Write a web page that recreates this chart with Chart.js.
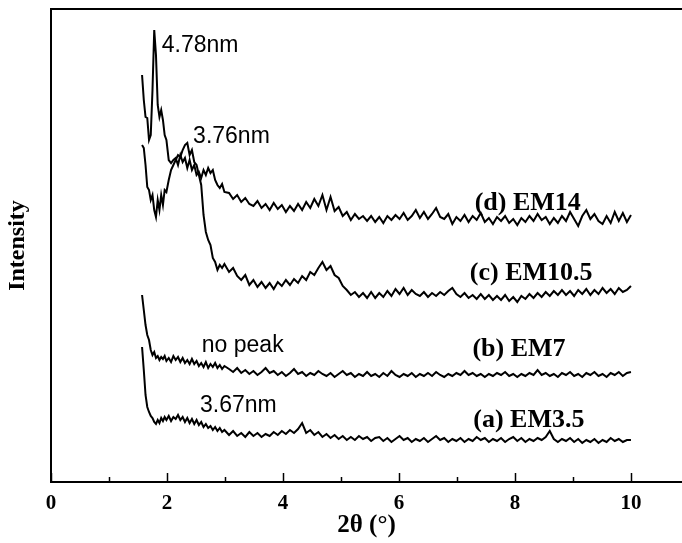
<!DOCTYPE html>
<html>
<head>
<meta charset="utf-8">
<script src="https://cdn.jsdelivr.net/npm/chart.js@4"></script>
<style>
  html, body { margin: 0; padding: 0; background: #fff; }
  #wrap { width: 682px; height: 543px; }
</style>
</head>
<body>
<div id="wrap"><canvas id="xrd" width="682" height="543"></canvas></div>
<script>
// 2theta positions (deg), shared by all four patterns
const theta = [
  1.57,1.60,1.63,1.66,1.69,1.72,1.75,1.78,1.81,1.84,
  1.87,1.90,1.93,1.96,1.99,2.03,2.07,2.11,2.15,2.19,
  2.23,2.27,2.31,2.35,2.39,2.43,2.47,2.51,2.55,2.59,
  2.63,2.67,2.71,2.75,2.79,2.83,2.87,2.91,2.95,2.99,
  3.07,3.14,3.21,3.28,3.35,3.42,3.49,3.56,3.63,3.70,
  3.77,3.84,3.91,3.98,4.05,4.12,4.19,4.26,4.33,4.40,
  4.47,4.54,4.61,4.68,4.75,4.82,4.89,4.96,5.03,5.10,
  5.17,5.24,5.31,5.38,5.45,5.52,5.59,5.66,5.73,5.80,
  5.87,5.94,6.01,6.08,6.15,6.22,6.29,6.36,6.43,6.50,
  6.57,6.64,6.71,6.78,6.85,6.92,6.99,7.06,7.13,7.20,
  7.27,7.34,7.41,7.48,7.55,7.62,7.69,7.76,7.83,7.90,
  7.97,8.04,8.11,8.18,8.25,8.32,8.39,8.46,8.53,8.60,
  8.67,8.74,8.81,8.88,8.95,9.02,9.09,9.16,9.23,9.30,
  9.37,9.44,9.51,9.58,9.65,9.72,9.79,9.86,9.93,10.00
];

// intensities (arb. units, stacked offsets as in the figure)
const em14 = [
  407,382,365,364,342,347,392,452,427,377,
  365,372,362,347,342,322,319,322,324,317,
  327,320,324,314,322,312,317,307,310,304,
  312,307,314,309,312,302,297,294,298,290,
  289,283,287,280,284,278,276,281,274,278,
  272,279,273,277,270,276,271,278,272,280,
  274,283,276,287,272,285,271,275,266,270,
  262,268,263,266,261,266,260,265,259,266,
  262,267,263,269,262,266,272,264,270,263,
  268,274,265,263,268,258,265,261,267,260,
  266,262,269,260,264,258,265,261,266,259,
  263,257,264,260,266,261,268,262,265,258,
  264,259,266,261,270,263,256,266,272,263,
  268,261,258,266,259,270,261,269,260,267
];
const em105 = [
  337,334,317,295,292,282,287,272,265,282,
  272,287,277,292,290,302,312,317,322,327,
  325,332,337,339,327,332,320,317,307,297,
  267,250,242,237,224,220,212,217,214,218,
  210,214,206,202,207,197,202,195,200,194,
  199,193,200,196,202,197,203,199,206,202,
  210,207,214,220,212,216,207,204,196,192,
  187,190,185,189,184,190,184,189,185,191,
  186,193,188,194,187,192,188,186,190,185,
  189,186,190,187,191,194,188,185,189,184,
  187,183,188,183,187,182,186,182,187,181,
  185,180,186,183,188,184,189,185,190,186,
  191,187,192,187,191,186,192,188,193,187,
  192,188,194,189,193,188,194,190,192,196
];
const em7 = [
  187,172,157,147,142,132,127,130,124,126,
  122,125,123,126,121,124,120,126,122,125,
  120,124,119,122,118,123,118,121,116,119,
  115,120,114,118,115,119,114,117,113,116,
  113,110,114,109,112,108,111,107,110,114,
  109,111,107,110,106,109,113,108,110,106,
  109,107,111,108,106,109,105,108,111,107,
  109,105,108,106,110,106,108,105,109,106,
  111,107,105,108,106,109,105,108,106,109,
  106,110,107,105,108,106,109,107,111,107,
  109,106,108,105,108,106,109,107,110,106,
  108,105,108,106,109,107,112,107,109,106,
  108,105,109,107,110,106,108,105,109,107,
  110,106,108,105,109,107,110,106,109,110
];
const em35 = [
  135,112,87,75,70,66,64,60,58,62,
  59,64,61,65,62,66,61,65,63,67,
  62,65,60,64,59,63,58,62,57,60,
  55,58,54,56,52,55,51,54,50,52,
  47,51,46,49,45,50,46,49,45,48,
  46,50,47,51,48,52,49,53,59,49,
  52,47,50,45,48,44,47,43,46,42,
  45,42,46,43,45,41,44,45,41,44,
  40,43,46,42,44,40,43,41,44,40,
  43,46,42,44,40,43,41,44,40,43,
  41,45,42,44,40,43,41,44,40,43,
  45,41,44,40,43,41,44,42,45,51,
  43,40,43,41,44,40,43,39,42,40,
  43,39,42,40,44,41,43,40,42,42
];

const seriesNames = ['(d) EM14', '(c) EM10.5', '(b) EM7', '(a) EM3.5'];
const seriesData = [em14, em105, em7, em35];
const xTicks = [0, 2, 4, 6, 8, 10];
const minorTicks = [1, 3, 5, 7, 9];

// text in the plot: [text, 2theta, intensity]
const peakNotes = [['4.78nm', 1.91, 430], ['3.76nm', 2.45, 339], ['no peak', 2.60, 130], ['3.67nm', 2.57, 70]];
const curveLabels = [[seriesNames[0], 8.22, 279], [seriesNames[1], 8.28, 209], [seriesNames[2], 8.07, 133], [seriesNames[3], 8.24, 62]];

const serif = '"Liberation Serif", "Times New Roman", serif';

const frame = {
  id: 'frame',
  afterDraw(chart) {
    const {ctx, chartArea: a, scales: {x, y}} = chart;
    ctx.save();
    ctx.strokeStyle = '#000';
    ctx.lineWidth = 2;
    ctx.beginPath();
    ctx.moveTo(a.left - 1, a.top);
    ctx.lineTo(a.right, a.top);
    ctx.stroke();
    // inward ticks
    ctx.lineWidth = 1.5;
    xTicks.concat(minorTicks).forEach(v => {
      const px = Math.round(x.getPixelForValue(v)) + 0.5;
      const len = v % 2 === 0 ? 9 : 5;
      ctx.beginPath();
      ctx.moveTo(px, a.bottom);
      ctx.lineTo(px, a.bottom - len);
      ctx.stroke();
    });
    ctx.fillStyle = '#000';
    ctx.textAlign = 'left';
    ctx.textBaseline = 'alphabetic';
    ctx.font = '23px "Liberation Sans", Arial, sans-serif';
    peakNotes.forEach(([t, tx, ty]) => ctx.fillText(t, x.getPixelForValue(tx), y.getPixelForValue(ty)));
    ctx.textAlign = 'center';
    ctx.textBaseline = 'middle';
    ctx.font = 'bold 26px ' + serif;
    curveLabels.forEach(([t, tx, ty]) => ctx.fillText(t, x.getPixelForValue(tx), y.getPixelForValue(ty)));
    ctx.restore();
  }
};

new Chart(document.getElementById('xrd'), {
  type: 'line',
  data: {
    datasets: seriesData.map((arr, i) => ({
      label: seriesNames[i],
      data: theta.map((t, k) => ({x: t, y: arr[k]})),
      borderColor: '#000',
      borderWidth: 2,
      pointRadius: 0,
      tension: 0,
      fill: false
    }))
  },
  options: {
    responsive: false,
    animation: false,
    layout: {padding: {top: 9, right: 0, left: 0, bottom: 0}},
    plugins: {legend: {display: false}, tooltip: {enabled: false}},
    scales: {
      x: {
        type: 'linear',
        min: 0,
        max: 10.88,
        ticks: {stepSize: 2, includeBounds: false, color: '#000', padding: 9, maxRotation: 0,
          font: {family: serif, weight: 'bold', size: 21}},
        grid: {drawOnChartArea: false, drawTicks: false},
        border: {color: '#000', width: 2},
        title: {display: true, text: '2θ (°)', color: '#000', padding: {top: 0, bottom: 2},
          font: {family: serif, weight: 'bold', size: 25}},
        afterFit(s) { s.height = 61; }
      },
      y: {
        min: 0,
        max: 473,
        ticks: {display: false},
        grid: {drawOnChartArea: false, drawTicks: false},
        border: {color: '#000', width: 2},
        title: {display: true, text: 'Intensity', color: '#000', padding: {top: 3, bottom: 0},
          font: {family: serif, weight: 'bold', size: 24}},
        afterFit(s) { s.width = 51; }
      }
    }
  },
  plugins: [frame]
});
</script>
</body>
</html>
